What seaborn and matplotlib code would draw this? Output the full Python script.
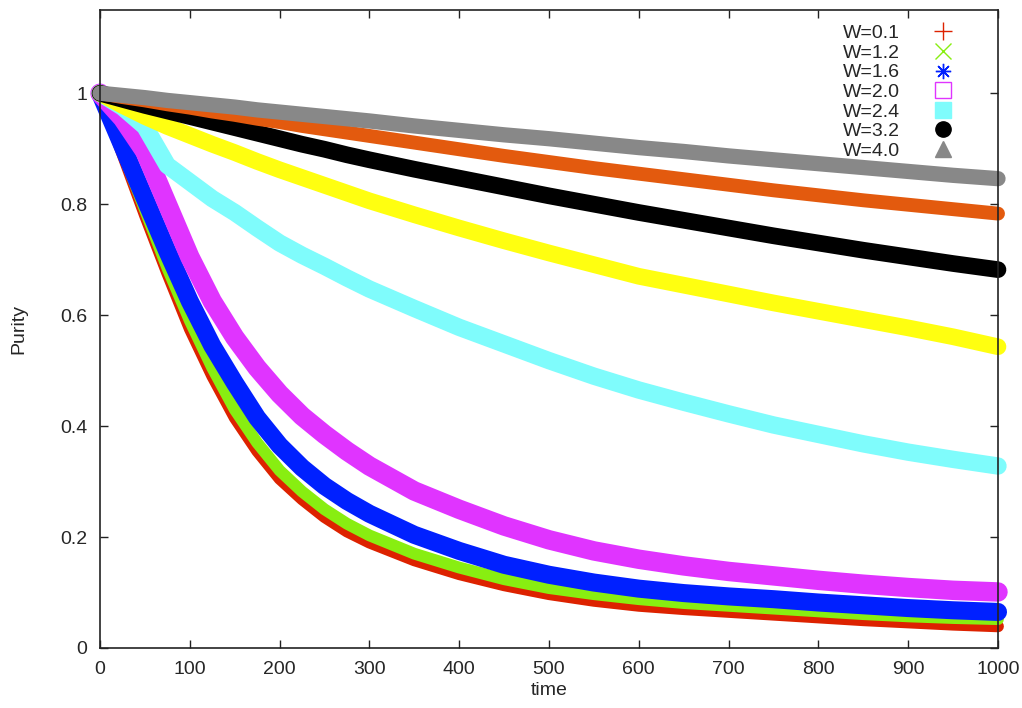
import matplotlib
matplotlib.use("Agg")
import matplotlib.pyplot as plt
from matplotlib.lines import Line2D
import seaborn as sns

# time samples
time = [0, 25, 50, 75, 100, 125, 150, 175, 200, 225, 250, 275, 300, 350, 400, 450,
        500, 550, 600, 650, 700, 750, 800, 850, 900, 950, 1000]

purity_w01 = [1.0, 0.89, 0.78, 0.675, 0.575, 0.49, 0.415, 0.355, 0.305, 0.268, 0.236, 0.21,
              0.19, 0.158, 0.133, 0.113, 0.097, 0.085, 0.076, 0.07, 0.065, 0.06, 0.055,
              0.05, 0.046, 0.042, 0.039]
purity_w12 = [1.0, 0.895, 0.79, 0.685, 0.59, 0.505, 0.43, 0.37, 0.32, 0.282, 0.25, 0.224,
              0.203, 0.17, 0.145, 0.124, 0.108, 0.097, 0.088, 0.081, 0.076, 0.071, 0.066,
              0.061, 0.057, 0.054, 0.052]
purity_w16 = [1.0, 0.905, 0.81, 0.715, 0.625, 0.545, 0.478, 0.415, 0.365, 0.325, 0.292, 0.265,
              0.242, 0.204, 0.175, 0.15, 0.132, 0.118, 0.107, 0.099, 0.093, 0.088, 0.082,
              0.077, 0.072, 0.068, 0.065]
purity_w20 = [1.0, 0.955, 0.895, 0.80, 0.705, 0.625, 0.56, 0.505, 0.458, 0.418, 0.385, 0.355,
              0.328, 0.283, 0.25, 0.22, 0.195, 0.175, 0.16, 0.148, 0.138, 0.13, 0.122,
              0.115, 0.109, 0.104, 0.101]
purity_w24 = [1.0, 0.975, 0.94, 0.87, 0.84, 0.81, 0.785, 0.757, 0.73, 0.708, 0.688, 0.667,
              0.647, 0.612, 0.578, 0.548, 0.518, 0.49, 0.465, 0.443, 0.422, 0.402, 0.385,
              0.368, 0.353, 0.34, 0.328]
purity_w28 = [1.0, 0.978, 0.958, 0.94, 0.924, 0.908, 0.893, 0.877, 0.862, 0.848, 0.834, 0.82,
              0.806, 0.781, 0.757, 0.734, 0.712, 0.691, 0.670, 0.654, 0.638, 0.622, 0.607,
              0.592, 0.577, 0.561, 0.543]
purity_w32 = [1.0, 0.989, 0.978, 0.968, 0.958, 0.948, 0.938, 0.928, 0.918, 0.908, 0.899, 0.889,
              0.880, 0.863, 0.847, 0.831, 0.815, 0.800, 0.785, 0.771, 0.757, 0.743, 0.730,
              0.717, 0.705, 0.693, 0.682]
purity_w36 = [1.0, 0.993, 0.987, 0.980, 0.974, 0.967, 0.961, 0.954, 0.948, 0.941, 0.935, 0.929,
              0.923, 0.911, 0.899, 0.887, 0.876, 0.865, 0.855, 0.845, 0.835, 0.825, 0.816,
              0.807, 0.799, 0.791, 0.783]
purity_w40 = [1.0, 0.996, 0.992, 0.987, 0.983, 0.979, 0.975, 0.970, 0.966, 0.962, 0.958, 0.954,
              0.950, 0.941, 0.933, 0.925, 0.918, 0.910, 0.902, 0.895, 0.887, 0.880, 0.873,
              0.866, 0.859, 0.852, 0.846]

labels = ["W=0.1", "W=1.2", "W=1.6", "W=2.0", "W=2.4", None, "W=3.2", None, "W=4.0"]

# (values, colour, band width, legend marker, filled)
series = [
    (purity_w01, "#dd2200", 8.5, "+", True),
    (purity_w12, "#88ee11", 8.5, "x", True),
    (purity_w16, "#0020ff", 13, (8, 2, 0), True),
    (purity_w20, "#e034ff", 14, "s", False),
    (purity_w24, "#7ffcfc", 12.5, "s", True),
    (purity_w28, "#ffff10", 12, "o", False),
    (purity_w32, "#000000", 12, "o", True),
    (purity_w36, "#e35a0e", 10, "^", False),
    (purity_w40, "#888888", 11, "^", True),
]

sns.set_style("ticks")
plt.rcParams['font.family'] = ['Liberation Sans', 'DejaVu Sans']

fig = plt.figure(figsize=(10.22, 7.08), dpi=100)
ax = fig.add_axes([100 / 1022, 60 / 708, 898 / 1022, 638 / 708])

handles = []
for (vals, color, lw, marker, filled), label in zip(series, labels):
    sns.lineplot(x=time, y=vals, color=color, linewidth=lw, ax=ax,
                 solid_capstyle="round", solid_joinstyle="round", clip_on=False)
    if label is not None:
        handles.append(Line2D([], [], linestyle="none", marker=marker, color=color,
                              markersize=11 if marker != "+" else 13,
                              markerfacecolor=color if filled else "none",
                              markeredgewidth=1.0, label=label))

ax.set_xlim(0, 1000)
ax.set_ylim(0, 1.15)
ax.set_xticks(range(0, 1001, 100))
ax.set_yticks([0, 0.2, 0.4, 0.6, 0.8, 1.0])
ax.set_yticklabels(["0", "0.2", "0.4", "0.6", "0.8", "1"])
ax.tick_params(direction="in", top=True, right=True, length=6, width=1,
               labelsize=14, color="#222222")
ax.tick_params(axis="x", pad=9)
ax.tick_params(axis="y", pad=9)
for sp in ax.spines.values():
    sp.set_linewidth(1.2)
    sp.set_color("#222222")

ax.set_xlabel("time", fontsize=14, labelpad=3)
ax.set_ylabel("Purity", fontsize=14, labelpad=24)

ax.legend(handles=handles, loc="upper right", bbox_to_anchor=(0.96, 0.977),
          frameon=False, markerfirst=False, fontsize=14, handlelength=2.0,
          handletextpad=1.2, labelspacing=0.1, borderpad=0, borderaxespad=0)

fig.savefig("out.png", dpi=100)
